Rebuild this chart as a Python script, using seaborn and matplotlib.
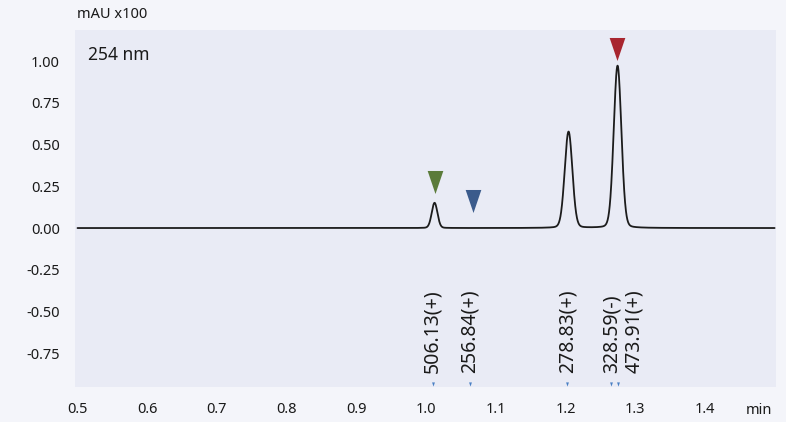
import numpy as np
import pandas as pd
import matplotlib
matplotlib.use("Agg")
import matplotlib.pyplot as plt
import seaborn as sns

# Chromatogram peak table (254 nm trace), retention time in min, height in mAU x100
peak_rt = [1.0122, 1.2044, 1.2747]
peak_height = [0.151, 0.577, 0.972]
peak_sigma = [0.0041, 0.0055, 0.0055]

# Detected compounds: retention time marks and m/z labels
mark_rt = [1.0093, 1.0625, 1.2026, 1.2658, 1.2759]
mark_labels = ["506.13(+)", "256.84(+)", "278.83(+)", "328.59(-)", "473.91(+)"]

# Highlighted peaks (triangle flags)
flag_rt = [1.0122, 1.0675, 1.2737]
flag_level = [0.275, 0.162, 1.074]
flag_colors = ["#5b7b3a", "#3b5b8c", "#a8252f"]

x_ticks = [0.5, 0.6, 0.7, 0.8, 0.9, 1.0, 1.1, 1.2, 1.3, 1.4]
y_ticks = [1.00, 0.75, 0.50, 0.25, 0.00, -0.25, -0.50, -0.75]

# Build trace from peak table (pseudo-Voigt shape: mostly Gaussian, slight Lorentzian tail)
t = np.linspace(0.5, 1.5, 4001)
signal = np.zeros_like(t)
for rt, h, s in zip(peak_rt, peak_height, peak_sigma):
    g = np.exp(-0.5 * ((t - rt) / s) ** 2)
    hw = 1.1774 * s
    lor = 1.0 / (1.0 + ((t - rt) / hw) ** 2)
    signal += h * (0.9 * g + 0.1 * lor)
trace = pd.DataFrame({"time": t, "signal": signal})

sns.set_theme(style="white")
plt.rcParams["font.family"] = ["Noto Sans", "DejaVu Sans"]

fig = plt.figure(figsize=(7.86, 4.22), dpi=100, facecolor="#f4f5fa")
ax = fig.add_axes([75 / 786, 1 - 387 / 422, 701 / 786, 357 / 422])
ax.set_facecolor("#e9ebf5")

sns.lineplot(data=trace, x="time", y="signal", ax=ax, color="#1c1c1c",
             linewidth=1.3, estimator=None, sort=False)

# Triangle flags above peaks
tri = [(-0.68, 1.0), (0.68, 1.0), (0.0, -1.0)]
flags = pd.DataFrame({"time": flag_rt, "level": flag_level, "c": flag_colors})
for _, r in flags.iterrows():
    ax.scatter([r["time"]], [r["level"]], marker=tri, s=275, color=r["c"],
               linewidths=0, zorder=4)

# Small retention-time marks at the bottom
marks = pd.DataFrame({"time": mark_rt, "level": [-0.934] * len(mark_rt)})
sns.scatterplot(data=marks, x="time", y="level", ax=ax, marker=tri, s=9,
                color="#4a80c4", linewidth=0, zorder=4)

# m/z annotations
label_shift = [0, 0, 0, 0, 16]
for rt, lab, dx in zip(mark_rt, mark_labels, label_shift):
    ax.annotate(lab, xy=(rt, -0.868), xytext=(dx, 0), textcoords="offset pixels",
                rotation=90, ha="center", va="bottom", fontsize=14, color="#1a1a1a")

ax.text(0.018, 0.955, "254 nm", transform=ax.transAxes, fontsize=12.5,
        color="#1a1a1a", va="top", ha="left")

ax.set_xlim(0.4964, 1.502)
ax.set_ylim(-0.952, 1.186)
ax.set_xticks(x_ticks)
ax.set_xticklabels([f"{v:.1f}" for v in x_ticks])
ax.set_yticks(y_ticks)
ax.set_yticklabels([f"{v:.2f}" for v in y_ticks])
ax.tick_params(axis="both", length=0, labelsize=10.5, labelcolor="#1a1a1a")
ax.tick_params(axis="x", pad=11)
ax.tick_params(axis="y", pad=11)
ax.set_xlabel("")
ax.set_ylabel("")
sns.despine(ax=ax, left=True, bottom=True)

fig.text(77 / 786, 1 - 15 / 422, "mAU x100", fontsize=10.5, color="#1a1a1a",
         ha="left", va="center")
ax.text(1.478, -1.09, "min", fontsize=10.5, color="#1a1a1a", ha="center",
        va="center", clip_on=False)

fig.savefig("out.png", dpi=100, facecolor=fig.get_facecolor())
